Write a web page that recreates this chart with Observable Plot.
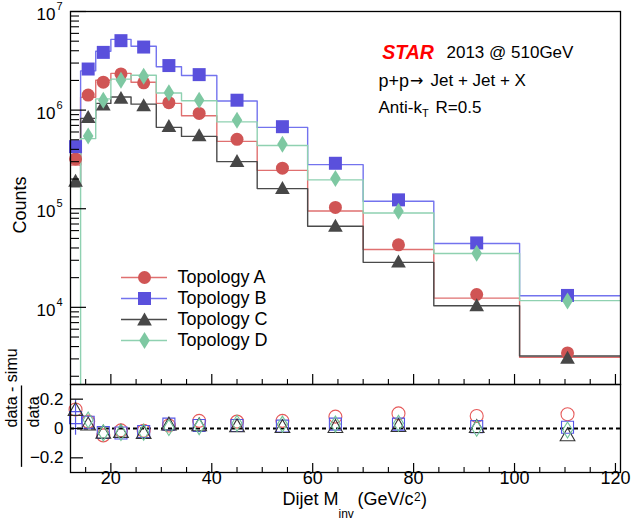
<!DOCTYPE html>
<html><head><meta charset="utf-8">
<script src="https://cdn.jsdelivr.net/npm/d3@7"></script>
<script src="https://cdn.jsdelivr.net/npm/@observablehq/plot@0.6"></script>
<style>
body{margin:0;background:#fff}
#chart{position:relative;width:631px;height:527px;overflow:hidden}
#chart svg{position:absolute;left:0}
</style>
</head><body><div id="chart"></div>
<script>
// ---------- data ----------
const binLow    = [12, 14, 17, 20, 24, 29, 34, 41, 49, 59, 70, 84, 101];
const binHigh   = [14, 17, 20, 24, 29, 34, 41, 49, 59, 70, 84, 101, 121];
const binCenter = [13, 15.5, 18.5, 22, 26.5, 31.5, 37.5, 45, 54, 64.5, 77, 92.5, 110.5];

const dataA  = [3.2e5, 1.42e6, 1.92e6, 2.33e6, 1.89e6, 1.19e6, 9.25e5, 5.06e5, 2.58e5, 1.03e5, 4.3e4, 1.35e4, 3.45e3];
const simA   = [2.78e5, 1.35e6, 2.01e6, 2.36e6, 1.92e6, 1.17e6, 8.77e5, 4.82e5, 2.45e5, 9.47e4, 3.86e4, 1.24e4, 3.12e3];
const ratioA = [0.13, 0.047, -0.047, -0.013, -0.016, 0.02, 0.052, 0.047, 0.052, 0.081, 0.103, 0.085, 0.097];

const dataB  = [4.26e5, 2.61e6, 3.85e6, 5.06e6, 4.36e6, 2.83e6, 2.29e6, 1.26e6, 6.79e5, 2.89e5, 1.23e5, 4.5e4, 1.32e4];
const simB   = [3.94e5, 2.50e6, 3.95e6, 5.22e6, 4.45e6, 2.75e6, 2.24e6, 1.235e6, 6.68e5, 2.80e5, 1.19e5, 4.44e4, 1.31e4];
const ratioB = [0.074, 0.043, -0.027, -0.031, -0.02, 0.03, 0.02, 0.02, 0.016, 0.03, 0.03, 0.013, 0.009];
const ratioErrB = [0.12, 0, 0, 0, 0, 0, 0, 0, 0, 0, 0, 0, 0];

const dataC  = [1.92e5, 8.5e5, 1.14e6, 1.33e6, 1.12e6, 6.9e5, 5.55e5, 3.05e5, 1.62e5, 6.73e4, 2.92e4, 1.05e4, 3.08e3];
const simC   = [1.67e5, 8.25e5, 1.17e6, 1.357e6, 1.15e6, 6.69e5, 5.41e5, 3.0e5, 1.6e5, 6.64e4, 2.86e4, 1.036e4, 3.21e3];
const ratioC = [0.13, 0.03, -0.025, -0.02, -0.027, 0.03, 0.025, 0.018, 0.013, 0.013, 0.02, 0.013, -0.043];

const dataD  = [null, 5.46e5, 1.26e6, 2.01e6, 2.2e6, 1.5e6, 1.26e6, 7.87e5, 4.5e5, 2.02e5, 9.4e4, 3.53e4, 1.16e4];
const simD   = [100, 5.14e5, 1.30e6, 2.06e6, 2.255e6, 1.49e6, 1.244e6, 7.59e5, 4.37e5, 1.96e5, 9.06e4, 3.52e4, 1.17e4];
const ratioD = [null, 0.058, -0.03, -0.027, -0.025, 0.007, 0.013, 0.036, 0.03, 0.03, 0.036, 0.002, -0.01];

const seriesNames = ["Topology A", "Topology B", "Topology C", "Topology D"];

const yMajorTicks = [1e4, 1e5, 1e6, 1e7];
const yMinorTicks = [2e3,3e3,4e3,5e3,6e3,7e3,8e3,9e3, 2e4,3e4,4e4,5e4,6e4,7e4,8e4,9e4,
                     2e5,3e5,4e5,5e5,6e5,7e5,8e5,9e5, 2e6,3e6,4e6,5e6,6e6,7e6,8e6,9e6];
const xMajorTicks = [20, 40, 60, 80, 100, 120];
const xTickLabels = ["20", "40", "60", "80", "100", "120"];
const xMinorTicks = [15, 25, 30, 35, 45, 50, 55, 65, 70, 75, 85, 90, 95, 105, 110, 115];
const ratioTicks = [0.2, 0, -0.2];
const ratioTickLabels = ["0.2", "0", "\u22120.2"];

// ---------- layout / style ----------
const F = "'Liberation Sans', Arial, Helvetica, sans-serif";
const W = 631, ML = 70, MR = 11;
const mainTop = 11, mainBottom = 384;
const yMin = 1.65e3;
const xDomain = [12, 121];
const frameW = W - ML - MR;
const xPix = d3.scaleLinear(xDomain, [ML, W - MR]);
const yPix = d3.scaleLog([yMin, 1e7], [mainBottom, mainTop]);

function symOf(kind, ax, ay, by) {
  return {draw(ctx, size) {
    const r = Math.sqrt(size / Math.PI);
    if (kind === "tri") {
      ctx.moveTo(0, -r * ay); ctx.lineTo(r * ax, r * by); ctx.lineTo(-r * ax, r * by); ctx.closePath();
    } else if (kind === "dia") {
      ctx.moveTo(0, -r); ctx.lineTo(r * ax, 0); ctx.lineTo(0, r); ctx.lineTo(-r * ax, 0); ctx.closePath();
    } else {
      ctx.moveTo(-r, -r); ctx.lineTo(r, -r); ctx.lineTo(r, r); ctx.lineTo(-r, r); ctx.closePath();
    }
  }};
}
const SQ = symOf("sq");
const TRI = symOf("tri", 1.05, 1.0, 0.85);
const DIA = symOf("dia", 0.62);

const series = [
  {data: dataA, sim: simA, ratio: ratioA, line: "#e07070", fill: "#d05555", hollow: "#e65a5a", sym: "circle", r: 6.5, rr: 6.5},
  {data: dataB, sim: simB, ratio: ratioB, line: "#7373ee", fill: "#5a50dc", hollow: "#5555e6", sym: SQ, r: 6.5, rr: 6},
  {data: dataC, sim: simC, ratio: ratioC, line: "#4a4a4a", fill: "#474747", hollow: "#333333", sym: TRI, r: 7, rr: 7},
  {data: dataD, sim: simD, ratio: ratioD, line: "#8fd1b1", fill: "#7ec8a2", hollow: "#6fc398", sym: DIA, r: 8.5, rr: 8}
];
series.forEach((s, i) => s.name = seriesNames[i]);

const steps = s => binLow.flatMap((lo, i) => [{x: lo, y: s.sim[i]}, {x: binHigh[i], y: s.sim[i]}]);
const pts = (arr) => binCenter.map((x, i) => ({x, y: arr[i]})).filter(d => d.y != null);

// legend layout (pixel positions converted to data coordinates)
const legendRowsPx = [277, 298, 319, 340];
const legendLine = [xPix.invert(121), xPix.invert(167)];
const legendMarkX = xPix.invert(144);
const legendTextX = xPix.invert(177);

const txt = (t, o) => Plot.text([t], {frameAnchor: "top-left", textAnchor: "start", fontSize: 17, ...o});

const main = Plot.plot({
  width: W, height: 390, marginLeft: ML, marginRight: MR, marginTop: mainTop, marginBottom: 390 - mainBottom,
  x: {domain: xDomain, axis: null},
  y: {type: "log", domain: [yMin, 1e7], axis: null},
  style: {fontFamily: F, background: "transparent", color: "#000", overflow: "visible"},
  marks: [
    ...series.map(s => Plot.line(steps(s), {x: "x", y: "y", stroke: s.line, strokeWidth: 1.4, clip: true})),
    ...series.map(s => Plot.dot(pts(s.data), {x: "x", y: "y", symbol: s.sym, r: s.r, fill: s.fill, stroke: "none"})),
    Plot.tickY(yMajorTicks, {y: d => d, insetRight: frameW - 16, stroke: "#000", strokeWidth: 1.2}),
    Plot.tickY(yMinorTicks, {y: d => d, insetRight: frameW - 9, stroke: "#000", strokeWidth: 1.1}),
    Plot.tickX(xMajorTicks, {x: d => d, insetTop: (mainBottom - mainTop) - 10, stroke: "#000", strokeWidth: 1.2}),
    Plot.tickX(xMinorTicks, {x: d => d, insetTop: (mainBottom - mainTop) - 5, stroke: "#000", strokeWidth: 1.1}),
    Plot.frame({stroke: "#000", strokeWidth: 1.3}),
    Plot.text(yMajorTicks, {y: d => d, text: () => "10", frameAnchor: "left", textAnchor: "end", dx: -15, dy: 3, fontSize: 17}),
    Plot.text(yMajorTicks, {y: d => d, text: d => String(Math.round(Math.log10(d))), frameAnchor: "left", textAnchor: "start", dx: -14, dy: -5, fontSize: 11}),
    Plot.text(["Counts"], {frameAnchor: "left", rotate: -90, dx: -50, dy: 35.5, fontSize: 18}),
    // annotations
    txt("STAR", {dx: 311.7, dy: 34, fontSize: 19.5, fontWeight: "bold", fontStyle: "italic", fill: "#ff0000"}),
    txt("2013 @ 510GeV", {dx: 376, dy: 34}),
    txt("p+p", {dx: 308, dy: 62.5, fontSize: 18}),
    txt("\u2192", {dx: 339.5, dy: 63, fontSize: 16, fontFamily: "'DejaVu Sans', sans-serif"}),
    txt("Jet + Jet + X", {dx: 360, dy: 62.5}),
    txt("Anti-k", {dx: 308, dy: 89}),
    txt("T", {dx: 351.5, dy: 98, fontSize: 11}),
    txt("R=0.5", {dx: 365, dy: 89}),
    // legend
    ...series.map((s, i) => Plot.ruleY([yPix.invert(legendRowsPx[i])], {y: d => d, x1: legendLine[0], x2: legendLine[1], stroke: s.line, strokeWidth: 1.4})),
    ...series.map((s, i) => Plot.dot([yPix.invert(legendRowsPx[i])], {y: d => d, x: () => legendMarkX, symbol: s.sym, r: s.r, fill: s.fill})),
    ...series.map((s, i) => Plot.text([yPix.invert(legendRowsPx[i])], {y: d => d, x: () => legendTextX, text: () => s.name, textAnchor: "start", fontSize: 18}))
  ]
});

const rTop = 384, rBottom = 472, rSvgTop = 378, rH = 149;
const ratioPlot = Plot.plot({
  width: W, height: rH, marginLeft: ML, marginRight: MR, marginTop: rTop - rSvgTop, marginBottom: rSvgTop + rH - rBottom,
  x: {domain: xDomain, axis: null},
  y: {domain: [-0.3, 0.3], axis: null},
  style: {fontFamily: F, background: "transparent", color: "#000", overflow: "visible"},
  marks: [
    Plot.ruleY([0], {stroke: "#000", strokeWidth: 2, strokeDasharray: "4,3"}),
    Plot.ruleX(binCenter.map((x, i) => ({x, lo: ratioB[i] - ratioErrB[i], hi: ratioB[i] + ratioErrB[i], e: ratioErrB[i]})).filter(d => d.e > 0),
      {x: "x", y1: "lo", y2: "hi", stroke: series[1].hollow, strokeWidth: 1.2}),
    ...series.map(s => Plot.dot(pts(s.ratio), {x: "x", y: "y", symbol: s.sym, r: s.rr, fill: "none", stroke: s.hollow, strokeWidth: 1.1})),
    Plot.tickY(ratioTicks, {y: d => d, insetRight: frameW - 13, stroke: "#000", strokeWidth: 1.2}),
    Plot.tickX(xMajorTicks, {x: d => d, insetTop: (rBottom - rTop) - 9, stroke: "#000", strokeWidth: 1.2}),
    Plot.tickX(xMinorTicks, {x: d => d, insetTop: (rBottom - rTop) - 5, stroke: "#000", strokeWidth: 1.1}),
    Plot.frame({stroke: "#000", strokeWidth: 1.3}),
    Plot.text(ratioTicks, {y: d => d, text: (d, i) => ratioTickLabels[i], frameAnchor: "left", textAnchor: "end", dx: -7, fontSize: 17}),
    Plot.text(xMajorTicks, {x: d => d, text: (d, i) => xTickLabels[i], frameAnchor: "bottom", dy: 11, fontSize: 18}),
    // x title
    Plot.text(["Dijet M"], {frameAnchor: "bottom-left", textAnchor: "start", dx: 212, dy: 32.5, fontSize: 18}),
    Plot.text(["inv"], {frameAnchor: "bottom-left", textAnchor: "start", dx: 268, dy: 45, fontSize: 12}),
    Plot.text(["(GeV/c"], {frameAnchor: "bottom-left", textAnchor: "start", dx: 287, dy: 32.5, fontSize: 18}),
    Plot.text(["2"], {frameAnchor: "bottom-left", textAnchor: "start", dx: 343.5, dy: 28, fontSize: 12}),
    Plot.text([")"], {frameAnchor: "bottom-left", textAnchor: "start", dx: 350.5, dy: 32.5, fontSize: 18}),
    // y title as fraction
    Plot.text(["data - simu"], {frameAnchor: "left", rotate: -90, dx: -59, dy: -1, fontSize: 16}),
    Plot.ruleX([xPix.invert(21)], {x: d => d, y1: 0.29, y2: -0.265, stroke: "#000", strokeWidth: 1.3}),
    Plot.text(["data"], {frameAnchor: "left", rotate: -90, dx: -37, dy: -1, fontSize: 16})
  ]
});

const chart = document.getElementById("chart");
main.style.top = "0px";
ratioPlot.style.top = rSvgTop + "px";
chart.appendChild(main);
chart.appendChild(ratioPlot);
</script>
</body></html>
